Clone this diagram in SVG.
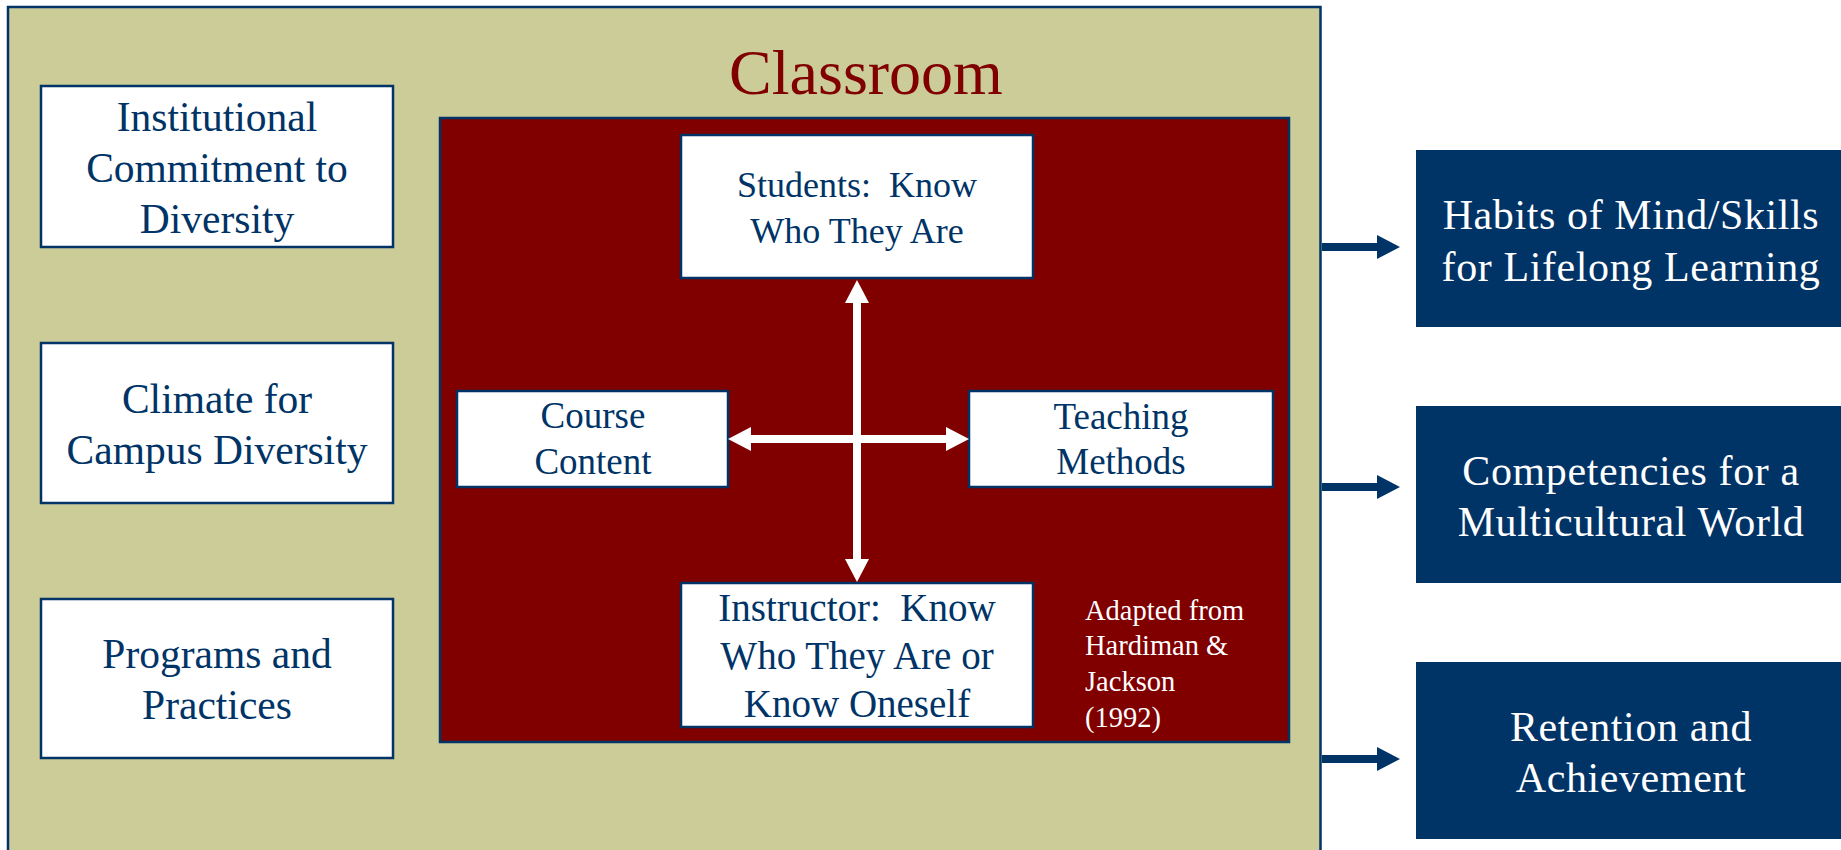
<svg xmlns="http://www.w3.org/2000/svg" width="1841" height="850" viewBox="0 0 1841 850">
  <style>
    .serif { font-family: "Liberation Serif", "Times New Roman", serif; }
    .box { fill: #ffffff; stroke: #003366; stroke-width: 2.5; }
    .navybox { fill: #003366; }
    .dark { fill: #003366; text-anchor: middle; }
    .light { fill: #ffffff; text-anchor: middle; }
    .note { fill: #ffffff; font-size: 28.5px; }
    .white-link { stroke: #ffffff; stroke-width: 8; fill: none; }
    .navy-link { stroke: #003366; stroke-width: 8; fill: none; }
  </style>
  <defs>
    <marker id="head-white" markerUnits="userSpaceOnUse" markerWidth="23" markerHeight="24" refX="3" refY="12" orient="auto-start-reverse" viewBox="0 0 23 24">
      <path d="M0,0 L23,12 L0,24 z" fill="#ffffff"/>
    </marker>
    <marker id="head-navy" markerUnits="userSpaceOnUse" markerWidth="23" markerHeight="24" refX="3" refY="12" orient="auto" viewBox="0 0 23 24">
      <path d="M0,0 L23,12 L0,24 z" fill="#003366"/>
    </marker>
  </defs>

  <rect width="1841" height="850" fill="#ffffff"/>

  <!-- campus context panel -->
  <g id="campus">
    <rect x="8" y="7" width="1312.5" height="860" fill="#CCCC99" stroke="#003366" stroke-width="2.5"/>
  </g>

  <g id="institutional" class="serif">
    <rect class="box" x="41" y="86" width="352" height="161"/>
    <text class="dark" font-size="41.5"><tspan x="217" y="131">Institutional</tspan><tspan x="217" y="182">Commitment to</tspan><tspan x="217" y="233">Diversity</tspan></text>
  </g>

  <g id="climate" class="serif">
    <rect class="box" x="41" y="343" width="352" height="160"/>
    <text class="dark" font-size="41.5"><tspan x="217" y="413">Climate for</tspan><tspan x="217" y="464">Campus Diversity</tspan></text>
  </g>

  <g id="programs" class="serif">
    <rect class="box" x="41" y="599" width="352" height="159"/>
    <text class="dark" font-size="41.5"><tspan x="217" y="668">Programs and</tspan><tspan x="217" y="719">Practices</tspan></text>
  </g>

  <!-- classroom panel -->
  <g id="classroom" class="serif">
    <text x="866" y="94" font-size="64" fill="#800000" text-anchor="middle">Classroom</text>
    <rect x="440" y="118" width="849" height="624" fill="#800000" stroke="#003366" stroke-width="2.5"/>
  </g>

  <g id="students" class="serif">
    <rect class="box" x="681" y="135" width="352" height="143"/>
    <text class="dark" font-size="36"><tspan x="857" y="197" xml:space="preserve">Students:  Know</tspan><tspan x="857" y="243">Who They Are</tspan></text>
  </g>

  <g id="course-content" class="serif">
    <rect class="box" x="457" y="391" width="271" height="96"/>
    <text class="dark" font-size="37"><tspan x="593" y="428">Course</tspan><tspan x="593" y="474">Content</tspan></text>
  </g>

  <g id="teaching-methods" class="serif">
    <rect class="box" x="969" y="391" width="304" height="96"/>
    <text class="dark" font-size="37"><tspan x="1121" y="429">Teaching</tspan><tspan x="1121" y="474">Methods</tspan></text>
  </g>

  <g id="instructor" class="serif">
    <rect class="box" x="681" y="583" width="352" height="144"/>
    <text class="dark" font-size="39"><tspan x="857" y="621" xml:space="preserve">Instructor:  Know</tspan><tspan x="857" y="669">Who They Are or</tspan><tspan x="857" y="717">Know Oneself</tspan></text>
  </g>

  <g id="source-note" class="serif">
    <text class="note"><tspan x="1085" y="620">Adapted from</tspan><tspan x="1085" y="655">Hardiman &amp;</tspan><tspan x="1085" y="691">Jackson</tspan><tspan x="1085" y="727">(1992)</tspan></text>
  </g>

  <!-- outcomes -->
  <g id="habits" class="serif">
    <rect class="navybox" x="1416" y="150" width="430" height="177"/>
    <text class="light" font-size="42" letter-spacing="0.6"><tspan x="1631" y="229">Habits of Mind/Skills</tspan><tspan x="1631" y="281">for Lifelong Learning</tspan></text>
  </g>

  <g id="competencies" class="serif">
    <rect class="navybox" x="1416" y="406" width="430" height="177"/>
    <text class="light" font-size="42" letter-spacing="0.6"><tspan x="1631" y="485">Competencies for a</tspan><tspan x="1631" y="536">Multicultural World</tspan></text>
  </g>

  <g id="retention" class="serif">
    <rect class="navybox" x="1416" y="662" width="430" height="177"/>
    <text class="light" font-size="42" letter-spacing="0.6"><tspan x="1631" y="741">Retention and</tspan><tspan x="1631" y="792">Achievement</tspan></text>
  </g>

  <!-- connectors -->
  <g id="connectors">
    <path class="white-link" d="M857,300 L857,562" marker-start="url(#head-white)" marker-end="url(#head-white)"/>
    <path class="white-link" d="M748,439 L949,439" marker-start="url(#head-white)" marker-end="url(#head-white)"/>
    <path class="navy-link" d="M1322,247 L1380,247" marker-end="url(#head-navy)"/>
    <path class="navy-link" d="M1322,487 L1380,487" marker-end="url(#head-navy)"/>
    <path class="navy-link" d="M1322,759 L1380,759" marker-end="url(#head-navy)"/>
  </g>
</svg>
